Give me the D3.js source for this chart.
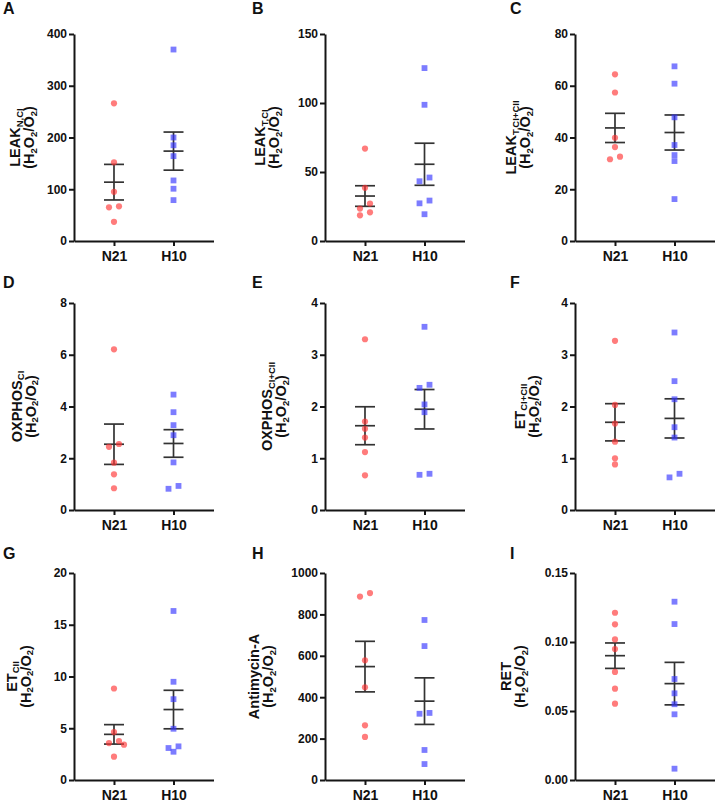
<!DOCTYPE html>
<html><head><meta charset="utf-8">
<script src="https://cdn.jsdelivr.net/npm/d3@7"></script>
<style>
body{margin:0;background:#fff}
svg{display:block}
text{font-family:"Liberation Sans",Arial,sans-serif;font-weight:bold;fill:#111}
</style>
</head><body><svg id="chart" width="717" height="802"></svg>
<script>
// ---------------- data ----------------
const categories = ["N21", "H10"];
const panelLetters = ["A", "B", "C", "D", "E", "F", "G", "H", "I"];
const titleMain = ["LEAK", "LEAK", "LEAK", "OXPHOS", "OXPHOS", "ET", "ET", "Antimycin-A", "RET"];
const titleSub = ["N,CI", "T,CI", "T,CI+CII", "CI", "CI+CII", "CI+CII", "CII", "", ""];
const yMax = [400, 150, 80, 8, 4, 4, 20, 1000, 0.15];
const yStep = [100, 50, 20, 2, 1, 1, 5, 200, 0.05];
const valuesN21 = [
  [266, 152, 95, 67, 65, 37],
  [67.0, 38.5, 27.1, 23.5, 20.8, 18.6],
  [64.4, 57.4, 39.9, 36.3, 32.6, 31.6],
  [6.21, 2.55, 2.44, 1.83, 1.38, 0.84],
  [3.30, 1.71, 1.57, 1.40, 1.12, 0.67],
  [3.27, 2.03, 1.67, 1.32, 1.00, 0.88],
  [8.84, 4.63, 3.76, 3.57, 3.41, 2.25],
  [903, 886, 578, 448, 264, 208],
  [0.1212, 0.1128, 0.1019, 0.0949, 0.0783, 0.0662, 0.0553]
];
const valuesH10 = [
  [370, 200, 185, 164, 117, 101, 79],
  [125.3, 98.7, 46.0, 43.3, 29.3, 27.3, 19.4],
  [67.5, 60.8, 47.8, 37.1, 33.2, 30.9, 16.2],
  [4.46, 3.78, 3.28, 2.89, 1.84, 0.93, 0.82],
  [3.54, 2.42, 2.36, 2.04, 1.89, 0.70, 0.68],
  [3.43, 2.49, 2.14, 1.60, 1.40, 0.70, 0.63],
  [16.33, 9.49, 7.81, 4.95, 3.25, 3.09, 2.73],
  [773, 647, 324, 320, 145, 77],
  [0.1292, 0.1130, 0.0732, 0.0628, 0.0549, 0.0476, 0.0082]
];

// ---------------- layout ----------------
const colAxisX = [74, 325, 575];
const rowTop = [34, 303, 573];
const plotH = 207;
const xLen = 139.5;
const letterX = [3, 252, 510];
const letterBase = [14, 288, 559];
const title2Offset = [40, 46, 45, 38.5, 39, 36.5, 43.5, 52, 50];
const titleGap = 14;
const fillColor = {N21: "#ff3535", H10: "#3535ff"};
const pointOpacity = 0.65;
const barColor = "#333";
const axisColor = "#151515";

const svg = d3.select("#chart");

function jitter(vals, y) {
  // simple column-arrangement of overlapping points (GraphPad-like scatter)
  const idx = d3.range(vals.length).sort((a, b) => vals[b] - vals[a]);
  const off = new Array(vals.length).fill(0);
  const thr = 5.6;
  let clusters = [], cur = [idx[0]];
  for (let k = 1; k < idx.length; k++) {
    if (Math.abs(y(vals[idx[k]]) - y(vals[idx[k - 1]])) < thr) cur.push(idx[k]);
    else { clusters.push(cur); cur = [idx[k]]; }
  }
  clusters.push(cur);
  const cands = [5, -5, 0, 10, -10, 15, -15];
  clusters.forEach(c => {
    if (c.length < 2) return;
    const placed = [];
    c.forEach(i => {
      const py = y(vals[i]);
      for (const o of cands) {
        if (placed.every(p => Math.hypot(p.x - o, p.y - py) >= thr)) {
          off[i] = o; placed.push({x: o, y: py}); break;
        }
      }
    });
  });
  return off;
}

for (let p = 0; p < 9; p++) {
  const col = p % 3, row = Math.floor(p / 3);
  const ax = colAxisX[col], top = rowTop[row], bottom = top + plotH;
  const g = svg.append("g");

  const y = d3.scaleLinear().domain([0, yMax[p]]).range([bottom, top]);
  const x = d3.scalePoint().domain(categories).range([ax, ax + xLen]).padding(0.672);

  const ticks = d3.range(0, yMax[p] + yStep[p] / 2, yStep[p]);
  const fmt = yStep[p] < 1 ? d3.format(".2f") : d3.format("d");

  const yAxis = g.append("g").attr("transform", `translate(${ax},0)`)
    .call(d3.axisLeft(y).tickValues(ticks).tickFormat(fmt).tickSize(5).tickSizeOuter(0).tickPadding(2));
  const xAxis = g.append("g").attr("transform", `translate(0,${bottom})`)
    .call(d3.axisBottom(x).tickSize(5).tickSizeOuter(0).tickPadding(5));
  [yAxis, xAxis].forEach(a => {
    a.select(".domain").attr("stroke", axisColor).attr("stroke-width", 2);
    a.selectAll(".tick line").attr("stroke", axisColor).attr("stroke-width", 2);
    a.selectAll("text").attr("fill", "#111").style("font-family", '"Liberation Sans",Arial,sans-serif').style("font-weight", "bold");
  });
  yAxis.selectAll("text").style("font-size", "12px");
  xAxis.selectAll("text").style("font-size", "14px");

  // panel letter
  g.append("text").attr("x", letterX[col]).attr("y", letterBase[row])
    .style("font-size", "16px").text(panelLetters[p]);

  // y title (two lines, rotated)
  const cy = (top + bottom) / 2;
  const base2 = ax - title2Offset[p];
  const t1 = g.append("text").attr("transform", `translate(${base2 - titleGap},${cy}) rotate(-90)`)
    .attr("text-anchor", "middle").style("font-size", "14.5px");
  t1.append("tspan").text(titleMain[p]);
  if (titleSub[p]) t1.append("tspan").attr("dy", 2.5).style("font-size", "9.5px").text(titleSub[p]);
  const t2 = g.append("text").attr("transform", `translate(${base2},${cy}) rotate(-90)`)
    .attr("text-anchor", "middle").style("font-size", "14.5px");
  const parts = [["(H", 0], ["2", 1], ["O", 0], ["2", 1], ["/O", 0], ["2", 1], [")", 0]];
  let prevSub = false;
  parts.forEach(([s, sub]) => {
    const ts = t2.append("tspan").text(s);
    if (sub) { ts.attr("dy", 2.5).style("font-size", "9.5px"); prevSub = true; }
    else if (prevSub) { ts.attr("dy", -2.5); prevSub = false; }
  });

  // error bars + points per group
  [valuesN21[p], valuesH10[p]].forEach((vals, gi) => {
    const cat = categories[gi];
    const cx = x(cat);
    const m = d3.mean(vals), sem = d3.deviation(vals) / Math.sqrt(vals.length);
    const bar = g.append("g").attr("stroke", barColor).attr("stroke-width", 1.7).attr("fill", "none");
    bar.append("line").attr("x1", cx).attr("x2", cx).attr("y1", y(m + sem)).attr("y2", y(m - sem));
    [m + sem, m, m - sem].forEach(v => {
      bar.append("line").attr("x1", cx - 10).attr("x2", cx + 10).attr("y1", y(v)).attr("y2", y(v));
    });
    const off = jitter(vals, y);
    const pts = g.append("g").attr("fill", fillColor[cat]).attr("fill-opacity", pointOpacity);
    if (gi === 0) {
      pts.selectAll("circle").data(vals).join("circle")
        .attr("cx", (d, i) => cx + off[i]).attr("cy", d => y(d)).attr("r", 3.1);
    } else {
      const s = 5.8;
      pts.selectAll("rect").data(vals).join("rect")
        .attr("x", (d, i) => cx + off[i] - s / 2).attr("y", d => y(d) - s / 2)
        .attr("width", s).attr("height", s);
    }
  });
}
</script>
</body></html>
